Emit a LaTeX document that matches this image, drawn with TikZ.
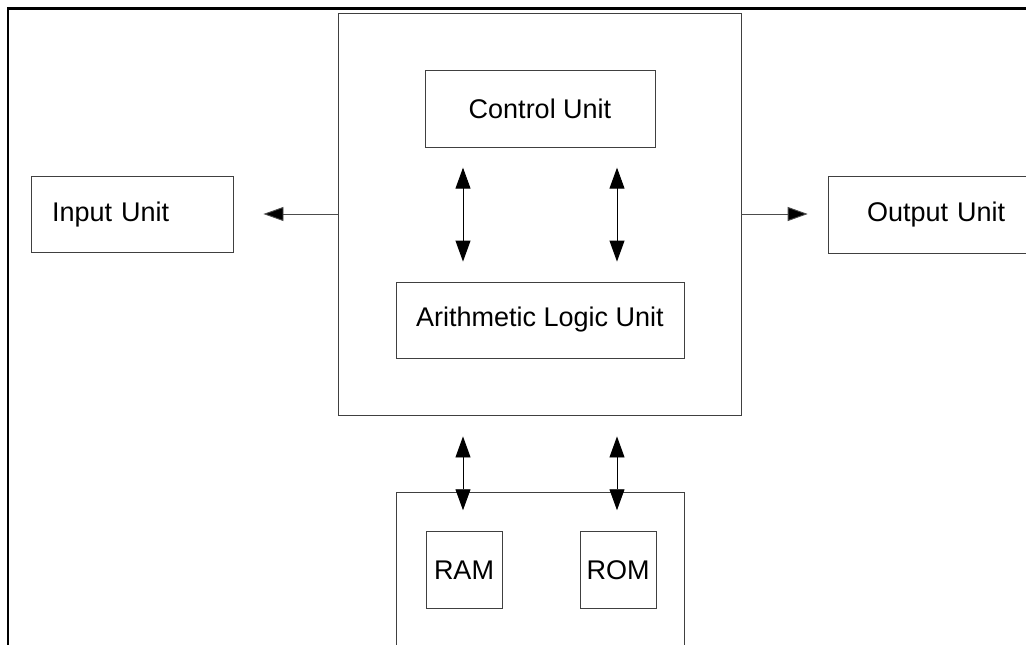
\documentclass[tikz,border=0pt]{standalone}
\usepackage{fontspec}
\setmainfont{Liberation Sans}
\usetikzlibrary{arrows.meta}
\begin{document}
\begin{tikzpicture}[x=1pt,y=-1pt,
  unitbox/.style={draw=black!75, line width=0.9pt, inner sep=0pt,
    font=\fontsize{27}{32}\selectfont},
  biarrow/.style={line width=0.9pt, {Triangle[width=15pt,length=21pt]}-{Triangle[width=15pt,length=21pt]}},
  onearrow/.style={line width=0.9pt, draw=black!70, -{Triangle[width=14pt,length=20pt,fill=black]}},
  frame/.style={line width=2.6pt, draw=black}]
\useasboundingbox (0,0) rectangle (1026,645);
\clip (0,0) rectangle (1026,645);
\draw[frame] (8,700) -- (8,8.5) -- (1040,8.5);
% CPU
\node[unitbox, minimum width=403pt, minimum height=402pt] (cpu) at (539.5,214) {};
\node[unitbox, minimum width=230pt, minimum height=77pt] (cu) at (540,108.7) {Control Unit};
\node[unitbox, minimum width=288pt, minimum height=76pt] (alu) at (540,320) {Arithmetic Logic Unit};
% I/O
\node[unitbox, minimum width=202pt, minimum height=76pt, inner xsep=21pt, text width=160pt, align=left] (in) at (132,214.5) {Input Unit};
\node[unitbox, anchor=west, minimum height=77pt, inner xsep=39pt, text width=170pt, align=left] (out) at (827.7,214.5) {Output Unit};
% Memory
\node[unitbox, minimum width=288pt, minimum height=200pt] (mem) at (540,592.7) {};
\node[unitbox, minimum width=76pt, minimum height=77pt] (ram) at (464,570) {RAM};
\node[unitbox, minimum width=76pt, minimum height=77pt] (rom) at (618,570) {ROM};
% connectors
\draw[biarrow, shorten <=20pt, shorten >=20pt] ([xshift=-77pt]cu.south) -- ([xshift=-77pt]alu.north);
\draw[biarrow, shorten <=20pt, shorten >=20pt] ([xshift=77pt]cu.south) -- ([xshift=77pt]alu.north);
\draw[biarrow, shorten <=21pt, shorten >=-18pt] ([xshift=-76.5pt]cpu.south) -- ([xshift=-77pt]mem.north);
\draw[biarrow, shorten <=21pt, shorten >=-18pt] ([xshift=77.5pt]cpu.south) -- ([xshift=77pt]mem.north);
\draw[onearrow, shorten >=30pt] (cpu.west) -- (cpu.west -| in.east);
\draw[onearrow, shorten >=20pt] (cpu.east) -- (cpu.east -| out.west);
\end{tikzpicture}
\end{document}
